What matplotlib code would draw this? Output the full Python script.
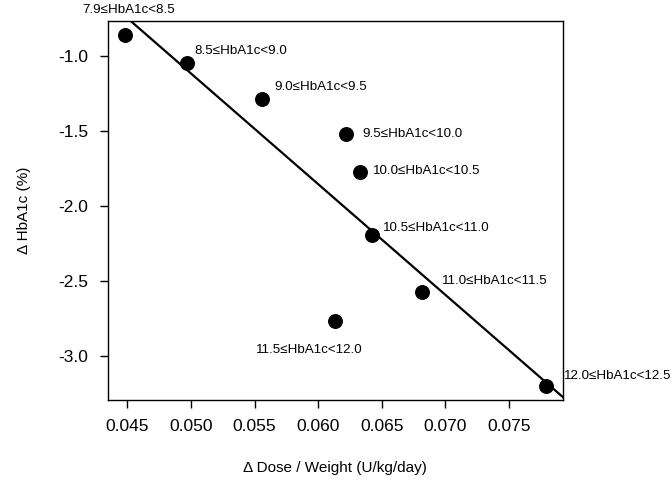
import numpy as np
import matplotlib
matplotlib.use("Agg")
import matplotlib.pyplot as plt

plt.rcParams["font.family"] = ["Liberation Sans", "DejaVu Sans"]

# data
dose_per_weight = [0.0448, 0.0497, 0.0556, 0.0622, 0.0633, 0.0642, 0.0682, 0.0613, 0.0779]
delta_hba1c = [-0.86, -1.047, -1.287, -1.52, -1.773, -2.193, -2.573, -2.767, -3.20]
group_labels = ["7.9≤HbA1c<8.5", "8.5≤HbA1c<9.0", "9.0≤HbA1c<9.5", "9.5≤HbA1c<10.0",
                "10.0≤HbA1c<10.5", "10.5≤HbA1c<11.0", "11.0≤HbA1c<11.5",
                "11.5≤HbA1c<12.0", "12.0≤HbA1c<12.5"]
x_ticks = [0.045, 0.050, 0.055, 0.060, 0.065, 0.070, 0.075]
y_ticks = [-1.0, -1.5, -2.0, -2.5, -3.0]

# label offsets in points (dx, dy, ha)
label_offsets = [(3, 18, "center"), (5, 9, "left"), (9, 9, "left"), (12, 0, "left"),
                 (9, 1, "left"), (8, 5, "left"), (14, 8, "left"), (-18, -21, "center"),
                 (13, 7, "left")]

fig = plt.figure(figsize=(6.72, 4.82), dpi=100)
ax = fig.add_axes([0.1607, 0.1701, 0.6767, 0.7863])

x = np.array(dose_per_weight)
y = np.array(delta_hba1c)

ax.scatter(x, y, s=95, color="black", zorder=3)

# R-style axis padding (4%)
xpad = (x.max() - x.min()) * 0.04
ypad = (y.max() - y.min()) * 0.04
ax.set_xlim(x.min() - xpad, x.max() + xpad)
ax.set_ylim(y.min() - ypad, y.max() + ypad)

# least squares line across the whole panel
slope, intercept = np.polyfit(x, y, 1)
xl = np.array(ax.get_xlim())
ax.plot(xl, slope * xl + intercept, color="black", lw=1.6, zorder=2)

for xi, yi, lab, (dx, dy, ha) in zip(x, y, group_labels, label_offsets):
    ax.annotate(lab, (xi, yi), xytext=(dx, dy), textcoords="offset points",
                ha=ha, va="center", fontsize=9.6, annotation_clip=False)

ax.set_xticks(x_ticks)
ax.set_xticklabels([f"{v:.3f}" for v in x_ticks])
ax.set_yticks(y_ticks)
ax.set_yticklabels([f"{v:.1f}" for v in y_ticks])
ax.tick_params(direction="out", length=6, width=1, labelsize=12.5, pad=8)
for sp in ax.spines.values():
    sp.set_linewidth(1)

ax.set_xlabel("Δ Dose / Weight (U/kg/day)", fontsize=11, labelpad=19)
ax.set_ylabel("Δ HbA1c (%)", fontsize=11, labelpad=20)

plt.savefig("out.png", dpi=100)
